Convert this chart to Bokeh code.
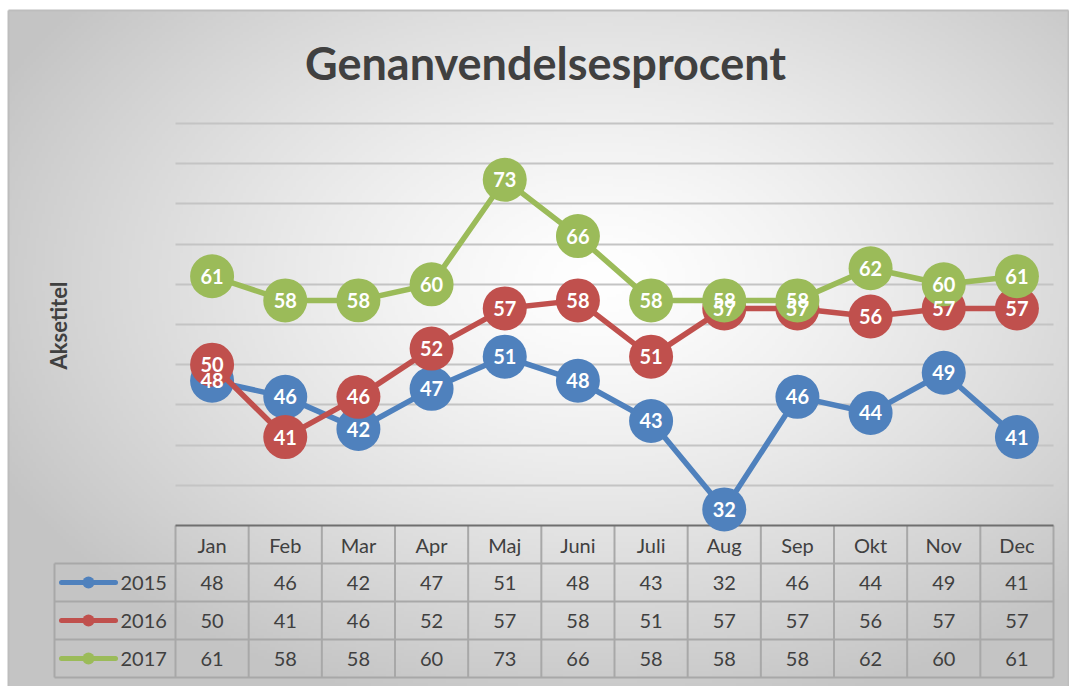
import math
import numpy as np
from bokeh.plotting import figure
from bokeh.models import Range1d, Grid, SingleIntervalTicker
from bokeh.core.properties import value
from bokeh.embed import file_html
from bokeh.resources import INLINE

# ---------------- data ----------------
months = ["Jan", "Feb", "Mar", "Apr", "Maj", "Juni", "Juli", "Aug", "Sep", "Okt", "Nov", "Dec"]
years = ["2015", "2016", "2017"]
s2015 = [48, 46, 42, 47, 51, 48, 43, 32, 46, 44, 49, 41]
s2016 = [50, 41, 46, 52, 57, 58, 51, 57, 57, 56, 57, 57]
s2017 = [61, 58, 58, 60, 73, 66, 58, 58, 58, 62, 60, 61]
series = [s2015, s2016, s2017]
colors = ["#4f81bd", "#c0504d", "#9bbb59"]
title_text = "Genanvendelsesprocent"
axis_title = "Aksetitel"
y_min, y_max, y_step = 30, 80, 5

# ---------------- layout (pixels of the page) ----------------
W, H = 1069, 686
OX, OY = 0, 0
CL, CT, CR, CB = 8, 10, 1068, 686  # chart area box
PL, PR, PT, PB = 175, 1053, 123, 525
col_w = (PR - PL) / len(months)
ky = (PB - PT) / (y_max - y_min)


def px2x(px):
    return (px - PL) / col_w - 0.5


def px2y(py):
    return y_min + (PB - py) / ky


x0, x1 = px2x(OX), px2x(OX + W)
y0, y1 = px2y(OY + H), px2y(OY)

FONT = value("Lato")
TXT = "#404040"

p = figure(width=W, height=H, x_range=Range1d(x0, x1), y_range=Range1d(y0, y1),
           x_axis_type=None, y_axis_type=None, toolbar_location=None,
           output_backend="svg", min_border=0, title=None,
           background_fill_color="white", border_fill_color="white")
p.outline_line_color = None

# ---------------- radial gradient background ----------------
res = 3
bw, bh = CR - CL, CB - CT
nw, nh = int(math.ceil(bw / res)), int(math.ceil(bh / res))
gx = CL + (np.arange(nw) + 0.5) * bw / nw
gy = CB - (np.arange(nh) + 0.5) * bh / nh  # row 0 = bottom
GX, GY = np.meshgrid(gx, gy)
cx, cy, rx, ry = 600.0, 280.0, 640.0, 420.0
t = np.sqrt(((GX - cx) / rx) ** 2 + ((GY - cy) / ry) ** 2)
t = np.clip(t, 0, 1.05)
g = (255 - 55 * t ** 1.3).clip(0, 255).astype(np.uint8)
img = np.empty((nh, nw), dtype=np.uint32)
view = img.view(dtype=np.uint8).reshape((nh, nw, 4))
view[..., 0] = g
view[..., 1] = g
view[..., 2] = g
view[..., 3] = 255
p.image_rgba(image=[img], x=px2x(CL), y=px2y(CB), dw=px2x(CR) - px2x(CL),
             dh=px2y(CT) - px2y(CB), level="image")
# chart border
p.segment(x0=[px2x(CL), px2x(CL), px2x(CR)], x1=[px2x(CR), px2x(CL), px2x(CR)],
          y0=[px2y(CT), px2y(CT), px2y(CT)], y1=[px2y(CT), px2y(CB), px2y(CB)],
          line_color="#bdbdbd", line_width=2)

# ---------------- gridlines ----------------
n = len(months)
grid = Grid(dimension=1, ticker=SingleIntervalTicker(interval=y_step),
            grid_line_color="#c4c4c4", grid_line_width=1.8,
            bounds=(y_min + y_step, y_max))
if "cross_bounds" in Grid.properties():
    grid.cross_bounds = (-0.5, n - 0.5)
    p.add_layout(grid)
else:
    gv = list(range(y_min + y_step, y_max + 1, y_step))
    p.segment(x0=[-0.5] * len(gv), x1=[n - 0.5] * len(gv), y0=gv, y1=gv,
              line_color="#c4c4c4", line_width=1.8)

# ---------------- data table ----------------
row_px = [525, 563, 601, 639, 677]
leg_left = 54
tbl_col = "#a8a8a8"
hy = [px2y(v) for v in row_px[1:]]
p.segment(x0=[px2x(leg_left)] * len(hy), x1=[n - 0.5] * len(hy), y0=hy, y1=hy,
          line_color=tbl_col, line_width=2)
vx = [k - 0.5 for k in range(n + 1)]
p.segment(x0=vx, x1=vx, y0=[px2y(row_px[0])] * len(vx), y1=[px2y(row_px[-1])] * len(vx),
          line_color=tbl_col, line_width=2)
p.segment(x0=[px2x(leg_left)], x1=[px2x(leg_left)], y0=[px2y(row_px[1])], y1=[px2y(row_px[-1])],
          line_color=tbl_col, line_width=2)
p.segment(x0=[-0.5], x1=[n - 0.5], y0=[y_min], y1=[y_min], line_color="#6f6f6f", line_width=2)

idx = list(range(n))
hdr_y = px2y((row_px[0] + row_px[1]) / 2)
p.text(x=idx, y=[hdr_y] * n, text=months, text_font=FONT, text_font_size="20px",
       text_color=TXT, text_align="center", text_baseline="middle")
for r, (vals, c, yr) in enumerate(zip(series, colors, years)):
    cyr = px2y((row_px[r + 1] + row_px[r + 2]) / 2)
    p.text(x=idx, y=[cyr] * n, text=[str(v) for v in vals], text_font=FONT,
           text_font_size="20px", text_color=TXT, text_align="center", text_baseline="middle")
    p.segment(x0=[px2x(61)], x1=[px2x(115)], y0=[cyr], y1=[cyr], line_color=c,
              line_width=5, line_cap="round")
    p.scatter(x=[px2x(88)], y=[cyr], size=12, fill_color=c, line_color=None)
    p.text(x=[px2x(120)], y=[cyr], text=[yr], text_font=FONT, text_font_size="20px",
           text_color=TXT, text_align="left", text_baseline="middle")

# ---------------- series ----------------
for vals, c in zip(series, colors):
    p.line(idx, vals, line_color=c, line_width=5.5, line_join="round")
    p.scatter(idx, vals, size=44, fill_color=c, line_color=None)
for vals in series:
    p.text(x=idx, y=vals, text=[str(v) for v in vals], text_font=FONT, text_font_style="bold",
           text_font_size="20px", text_color="white", text_align="center", text_baseline="middle")

# ---------------- titles ----------------
p.text(x=[px2x(545)], y=[px2y(62)], text=[title_text], text_font=FONT, text_font_style="bold",
       text_font_size="45px", text_color=TXT, text_align="center", text_baseline="middle")
p.text(x=[px2x(58)], y=[px2y(325)], text=[axis_title], angle=math.pi / 2, text_font=FONT,
       text_font_style="bold", text_font_size="22px", text_color=TXT,
       text_align="center", text_baseline="middle")

open("out.html", "w").write(file_html(p, INLINE))
